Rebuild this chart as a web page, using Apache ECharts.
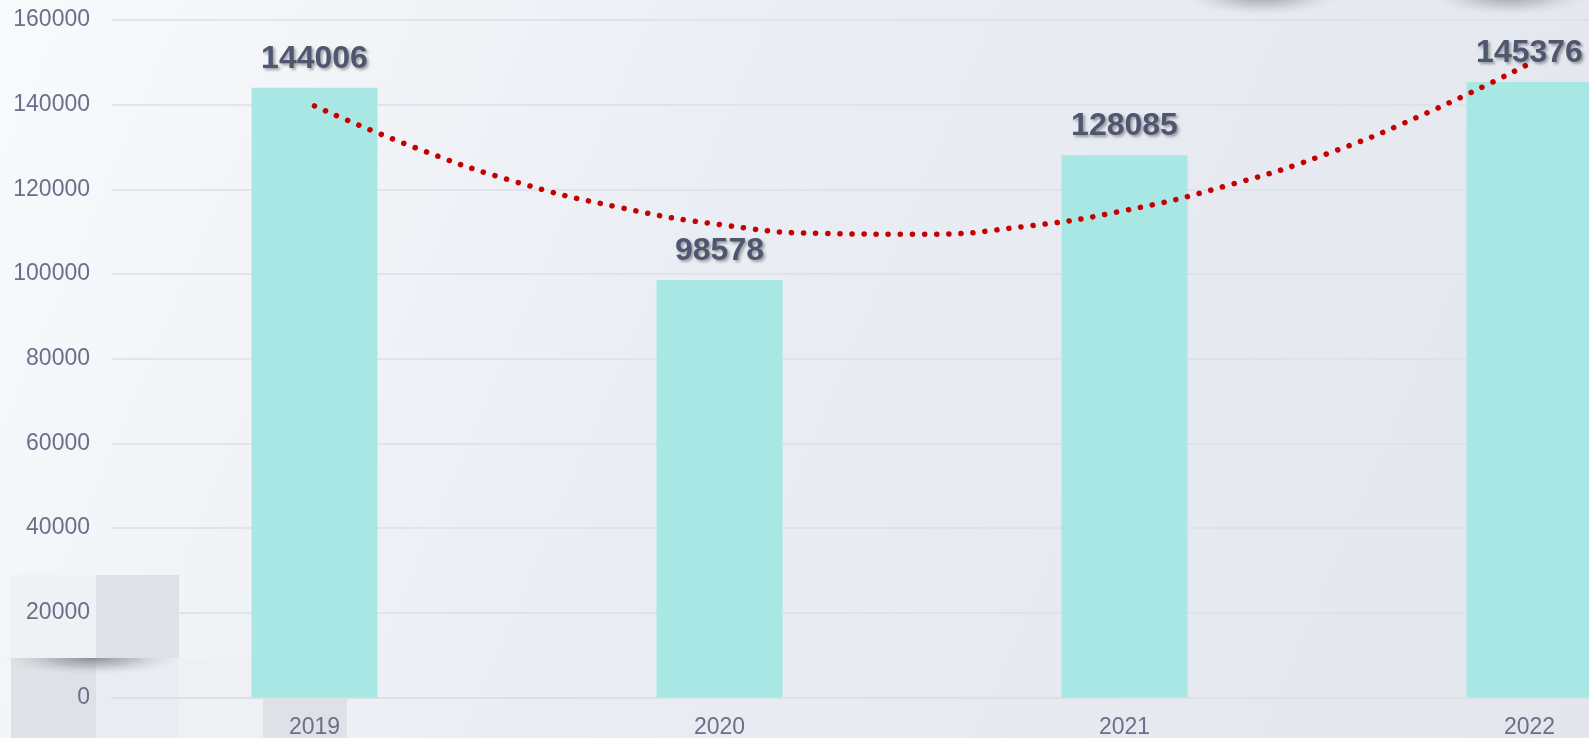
<!DOCTYPE html>
<html>
<head>
<meta charset="utf-8">
<style>
html,body{margin:0;padding:0;width:1589px;height:738px;overflow:hidden;}
#chart{width:1732px;height:738px;}
</style>
<script src="https://cdn.jsdelivr.net/npm/echarts@6/dist/echarts.min.js"></script>
</head>
<body>
<div id="chart"></div>
<script>
// Data
const categories = ['2019', '2020', '2021', '2022'];
const barValues = [144006, 98578, 128085, 145376];
const yTicks = { min: 0, max: 160000, interval: 20000 };
// Trendline points (category position, value)
const trendX = [0, 0.25, 0.5, 0.75, 1, 1.25, 1.5, 1.75, 2, 2.25, 2.5, 2.75, 3];
const trendY = [139700, 129800, 121700, 115800, 111700, 109600, 109400, 111200, 115000, 120800, 128400, 138200, 149700];

const chart = echarts.init(document.getElementById('chart'), null, { renderer: 'canvas' });
const axisTextColor = '#6a7089';
const gridColor = '#dcdfe6';

function softShadow(x, y, r, sx, alpha) {
  return {
    type: 'circle', z: -1, x: x, y: y, scaleX: sx, scaleY: 1,
    shape: { cx: 0, cy: 0, r: r },
    style: {
      fill: {
        type: 'radial', x: 0.5, y: 0.5, r: 0.5,
        colorStops: [
          { offset: 0, color: 'rgba(110,112,122,' + alpha + ')' },
          { offset: 0.5, color: 'rgba(140,142,152,' + (alpha * 0.55) + ')' },
          { offset: 1, color: 'rgba(200,202,212,0)' }
        ]
      }
    }
  };
}

const option = {
  backgroundColor: {
    type: 'linear', x: 0, y: 0, x2: 1, y2: 1,
    colorStops: [
      { offset: 0, color: '#f9fafc' },
      { offset: 0.4, color: '#eaedf3' },
      { offset: 1, color: '#e2e5ec' }
    ]
  },
  animation: false,
  graphic: [
    { type: 'rect', z: -1, shape: { x: 11, y: 658, width: 85, height: 80 }, style: { fill: '#dfe1e6' } },
    { type: 'rect', z: -1, shape: { x: 96, y: 658, width: 83, height: 80 }, style: { fill: '#eaecf1' } },
    { type: 'rect', z: -1, shape: { x: 179, y: 658, width: 84, height: 80 }, style: { fill: '#eef0f4' } },
    { type: 'rect', z: -1, shape: { x: 263, y: 698, width: 84, height: 40 }, style: { fill: '#dfe1e6' } },
    softShadow(92, 658, 17, 5.2, 0.75),
    { type: 'rect', z: -1, shape: { x: 11, y: 575, width: 85, height: 83 }, style: { fill: '#eff1f5' } },
    { type: 'rect', z: -1, shape: { x: 96, y: 575, width: 83, height: 83 }, style: { fill: '#dfe1e6' } },
    softShadow(1262, -4, 20, 4.0, 0.6),
    softShadow(1510, -4, 20, 4.0, 0.6)
  ],
  grid: { left: 112, top: 20, right: 0, bottom: 40.5, containLabel: false, outerBoundsMode: 'none' },
  xAxis: [
    {
      type: 'category', data: categories, boundaryGap: true,
      axisLine: { show: true, lineStyle: { color: gridColor, width: 1.5 } },
      axisTick: { show: false },
      axisLabel: { color: axisTextColor, fontSize: 23, fontFamily: 'Liberation Sans, Arial', margin: 19 }
    },
    { type: 'value', min: -0.5, max: 3.5, show: false }
  ],
  yAxis: {
    type: 'value', min: yTicks.min, max: yTicks.max, interval: yTicks.interval,
    axisLine: { show: false }, axisTick: { show: false },
    axisLabel: { color: axisTextColor, fontSize: 23, fontFamily: 'Liberation Sans, Arial', margin: 22,
      formatter: function (v) { return String(v); } },
    splitLine: { lineStyle: { color: gridColor, width: 1.5 } }
  },
  series: [
    {
      type: 'bar', data: barValues, barWidth: 126,
      itemStyle: { color: '#a9e7e5' },
      label: {
        show: true, position: 'top', distance: 13,
        fontSize: 32, fontWeight: 'bold', fontFamily: 'Liberation Sans, Arial',
        color: '#4f5670',
        textShadowColor: 'rgba(0,0,0,0.35)', textShadowBlur: 3, textShadowOffsetX: 2, textShadowOffsetY: 2
      },
      z: 2
    },
    {
      type: 'line', xAxisIndex: 1, smooth: true, symbol: 'none',
      data: trendX.map((x, i) => [x, trendY[i]]),
      lineStyle: { color: '#c40000', width: 5.5, type: [0.1, 12], cap: 'round' },
      z: 3
    }
  ]
};
chart.setOption(option);
</script>
</body>
</html>
